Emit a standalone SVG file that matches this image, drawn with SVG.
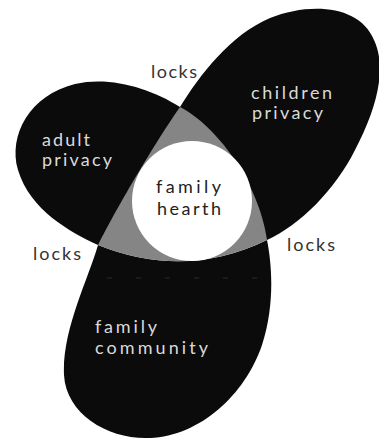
<svg xmlns="http://www.w3.org/2000/svg" width="379" height="439" viewBox="0 0 379 439">
  <style>
    .blob { fill: #0b0b0b; }
    .core { fill: #858585; }
    .hearth { fill: #ffffff; }
    text { font-family: Lato, "Open Sans", "DejaVu Sans", sans-serif; font-size: 18px; }
    .light { fill: #dadada; }
    .dark { fill: #333333; }
    .center { fill: #222222; }
  </style>
  <rect width="379" height="439" fill="#ffffff"/>

  <g id="adult-privacy">
    <path class="blob" d="M98,245 C70,232 30,210 18,170 C8,135 30,95 75,84 C110,76 150,88 180,107 C215,125 258,180 267,240 Z"/>
  </g>

  <g id="children-privacy">
    <path class="blob" d="M180,107 C200,75 230,35 270,18 C310,2 360,5 374,40 C388,70 375,112 355,150 C335,190 300,225 267,240 L98,245 C110,220 150,150 180,107 Z"/>
  </g>

  <g id="family-community">
    <path class="blob" d="M98,245 C88,280 62,330 64,375 C66,415 110,440 150,438 C200,436 245,395 262,345 C275,305 272,265 267,240 Q185,280 98,245 Z"/>
    <line x1="107" y1="278" x2="258" y2="278" stroke="#2a2a2a" stroke-width="1" stroke-dasharray="5 24"/>
  </g>

  <g id="family-hearth">
    <path class="core" d="M180,107 C215,125 258,180 267,240 Q185,280 98,245 C110,220 150,150 180,107 Z"/>
    <circle class="hearth" cx="192" cy="201" r="60"/>
    <text class="center" x="156" y="193" textLength="65" lengthAdjust="spacing">family</text>
    <text class="center" x="157" y="215" textLength="64" lengthAdjust="spacing">hearth</text>
  </g>

  <g id="labels">
    <text class="light" x="251" y="99" textLength="81" lengthAdjust="spacing">children</text>
    <text class="light" x="252" y="119" textLength="71" lengthAdjust="spacing">privacy</text>
    <text class="light" x="42" y="146" textLength="48" lengthAdjust="spacing">adult</text>
    <text class="light" x="42" y="166" textLength="70" lengthAdjust="spacing">privacy</text>
    <text class="light" x="95" y="333" textLength="62" lengthAdjust="spacing">family</text>
    <text class="light" x="95" y="354" textLength="113" lengthAdjust="spacing">community</text>
  </g>

  <g id="connectors">
    <text class="dark" x="151" y="78" textLength="46" lengthAdjust="spacing">locks</text>
    <text class="dark" x="33" y="260" textLength="48" lengthAdjust="spacing">locks</text>
    <text class="dark" x="287" y="251" textLength="48" lengthAdjust="spacing">locks</text>
  </g>
</svg>
